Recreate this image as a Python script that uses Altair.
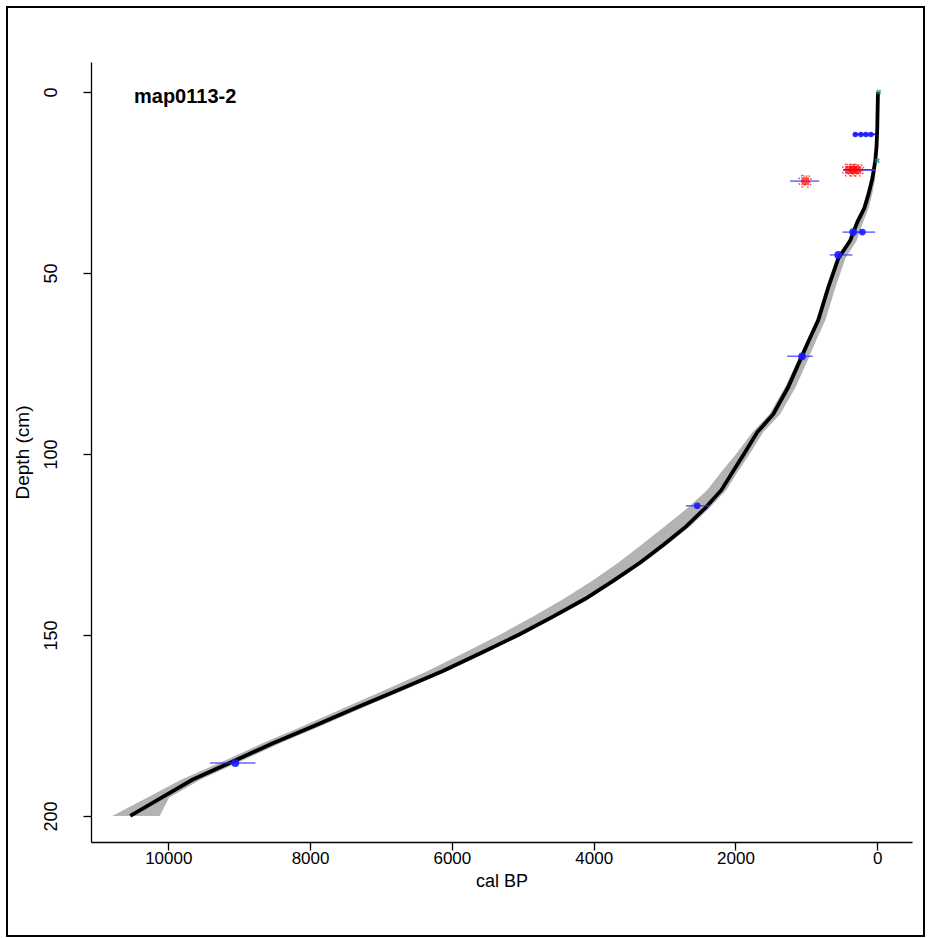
import altair as alt
import pandas as pd

# ---- age-depth model (median line and grey envelope) ----
model_depth = [0, 5, 10, 15, 19, 24, 28, 32, 36, 41, 46, 54, 63, 69, 74, 81.5, 89, 94, 100,
               105, 110, 115, 120, 125, 130, 135, 140, 145, 150, 155, 160, 165, 170, 175,
               180, 185, 190, 195, 200]
model_age = [-10, -5, 0, 10, 28, 70, 120, 180, 282, 381, 550, 691, 832, 973, 1086, 1255, 1467,
             1693, 1880, 2040, 2200, 2430, 2695, 3010, 3343, 3720, 4118, 4580, 5063, 5590,
             6135, 6730, 7334, 7930, 8533, 9097, 9661, 10100, 10536]
env_young = [-20, -15, -10, 0, 15, 30, 70, 120, 200, 290, 450, 590, 730, 870, 980, 1150, 1370,
             1610, 1800, 1970, 2130, 2370, 2640, 2960, 3290, 3670, 4070, 4530, 5010, 5530,
             6070, 6650, 7240, 7830, 8430, 8990, 9550, 9990, 10120]
env_old = [0, 5, 10, 20, 40, 100, 150, 210, 310, 410, 580, 720, 860, 1000, 1120, 1300, 1520,
           1760, 1990, 2200, 2400, 2680, 3000, 3320, 3650, 4020, 4420, 4860, 5330, 5830,
           6350, 6920, 7500, 8080, 8680, 9240, 9820, 10300, 10790]

# ---- accepted dates (blue) ----
date_depth = [11.7, 11.7, 11.7, 11.7, 38.7, 38.7, 45, 73, 114.3, 185.4]
date_age = [310, 230, 160, 90, 340, 210, 550, 1060, 2540, 9055]
date_lo = [340, 340, 340, 340, 490, 330, 670, 1270, 2700, 9410]
date_hi = [30, 30, 30, 30, 200, 30, 350, 910, 2360, 8770]
date_size = [30, 30, 30, 30, 60, 45, 60, 60, 45, 60]

# ---- outlier dates (red) ----
out_depth = [21.5, 21.5, 21.5, 24.6]
out_age = [400, 340, 280, 1015]
out_lo = [480, 480, 480, 1230]
out_hi = [30, 30, 30, 820]

# ---- surface / reference markers (teal) ----
top_depth = [0, 19]
top_age = [-20, 0]

x_ticks = [0, 2000, 4000, 6000, 8000, 10000]
y_ticks = [0, 50, 100, 150, 200]

FONT = "Liberation Sans"

model = pd.DataFrame({"depth": model_depth, "age": model_age,
                      "young": env_young, "old": env_old})
dates = pd.DataFrame({"depth": date_depth, "age": date_age, "lo": date_lo, "hi": date_hi,
                      "sz": date_size})
outs = pd.DataFrame({"depth": out_depth, "age": out_age, "lo": out_lo, "hi": out_hi})
tops = pd.DataFrame({"depth": top_depth, "age": top_age})

xscale = alt.Scale(domain=[-490, 11090], reverse=True, nice=False, zero=False)
yscale = alt.Scale(domain=[-8.3, 207.2], reverse=True, nice=False, zero=False)

xaxis = alt.Axis(values=x_ticks, title="cal BP", format="d", labelPadding=0,
                 titlePadding=6, tickSize=8, labelFontSize=17, titleFontSize=18)
yaxis = alt.Axis(values=y_ticks, title="Depth (cm)", labelAngle=-90, labelPadding=23,
                 titlePadding=10, tickSize=8, labelAlign="center", labelBaseline="bottom",
                 labelFontSize=18, titleFontSize=19)

X = alt.X("age:Q", scale=xscale, axis=xaxis)
Y = alt.Y("depth:Q", scale=yscale, axis=yaxis)

band = alt.Chart(model).mark_area(orient="horizontal", fill="#b3b3b3", stroke=None).encode(
    y=alt.Y("depth:Q", scale=yscale, axis=yaxis),
    x=alt.X("young:Q", scale=xscale, axis=xaxis),
    x2=alt.X2("old:Q"))

line = alt.Chart(model).mark_line(color="black", strokeWidth=3.8).encode(
    x=X, y=Y, order="depth:Q")

date_bars = alt.Chart(dates).mark_rule(color="#3333ff", strokeWidth=1.5, opacity=0.75).encode(
    x=alt.X("lo:Q", scale=xscale, axis=xaxis), x2="hi:Q", y=Y)
date_pts = alt.Chart(dates).mark_point(filled=True, shape="circle", color="#1a1aff",
                                       opacity=0.9).encode(
    x=X, y=Y, size=alt.Size("sz:Q", scale=None, legend=None))

out_bars = alt.Chart(outs).mark_rule(color="#3333ff", strokeWidth=1.5, opacity=0.75).encode(
    x=alt.X("lo:Q", scale=xscale, axis=xaxis), x2="hi:Q", y=Y)
out_pts = alt.Chart(outs).mark_point(filled=True, shape="square", color="red",
                                     size=60).encode(x=X, y=Y)
out_x = alt.Chart(outs).mark_point(shape="cross", angle=45, filled=False, color="red",
                                   size=160, strokeWidth=1.2, strokeDash=[2, 2]).encode(x=X, y=Y)

top_pts = alt.Chart(tops).mark_point(shape="cross", angle=45, filled=True, color="#1a8a8a",
                                     size=30).encode(x=X, y=Y)

label = alt.Chart(alt.Data(values=[{"t": "map0113-2"}])).mark_text(
    text="map0113-2", font=FONT, fontSize=20, fontWeight="bold", align="left",
    baseline="middle", color="black").encode(x=alt.value(43), y=alt.value(35))

frame = alt.Chart(alt.Data(values=[{"a": 1}])).mark_rect(
    fill=None, stroke="black", strokeWidth=2, clip=False).encode(
    x=alt.value(-84), x2=alt.value(833), y=alt.value(-55), y2=alt.value(874))

chart = alt.layer(band, line, date_bars, out_bars, date_pts, out_pts, out_x, top_pts,
                  label, frame).properties(
    width=821, height=780,
    autosize=alt.AutoSizeParams(type="none"),
    padding={"left": 91, "top": 62, "right": 16, "bottom": 96},
    background="white",
).configure_view(stroke=None).configure_axis(
    grid=False, domainColor="black", domainWidth=1.3, tickColor="black", tickWidth=1.3,
    labelFont=FONT, labelColor="black", titleFont=FONT,
    titleFontWeight="normal", titleColor="black",
)

chart.save("out.html", embed_options={"renderer": "svg", "actions": False})
